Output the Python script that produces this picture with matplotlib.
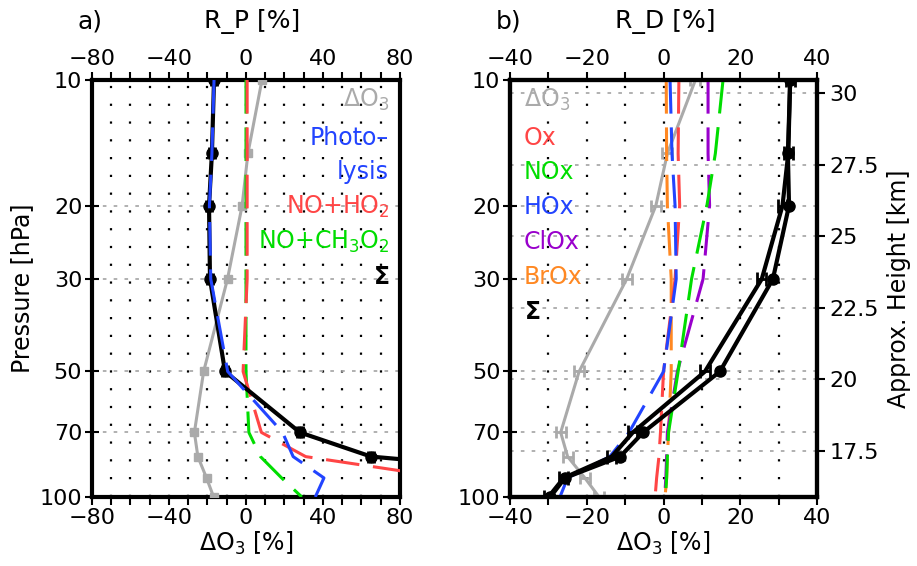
import numpy as np
import matplotlib
matplotlib.use("Agg")
import matplotlib.pyplot as plt

plt.rcParams['font.family'] = ['DejaVu Sans']
plt.rcParams['font.size'] = 16
plt.rcParams['mathtext.fontset'] = 'dejavusans'

# pressure levels [hPa]
pres = [10, 15, 20, 30, 50, 70, 80, 90, 100]

# ozone change, same in both panels
d_o3 = [8.3, 1.0, -2.0, -9.6, -22.0, -26.8, -25.0, -20.5, -16.8]

# panel a: production terms R_P [%]
sum_p = [-16.6, -17.7, -19.2, -18.7, -10.9, 28.0, 65.0, 190.0, 250.0]
photolysis = [-16.6, -17.7, -19.0, -18.3, -9.5, 19.0, 24.5, 40.5, 36.0]
no_ho2 = [0.6, 0.6, 0.6, 0.6, -1.5, 8.0, 31.0, 105.0, 130.0]
no_ch3o2 = [0.0, 0.0, 0.0, 0.0, 0.0, 1.5, 7.5, 18.5, 29.0]

# panel b: destruction terms R_D [%]
sum_d1 = [33.0, 32.4, 32.7, 28.5, 14.7, -5.3, -11.3, -25.7, -29.5]
sum_d2 = [33.0, 32.5, 31.0, 25.6, 10.8, -8.0, -13.5, -26.0, -30.0]
ox = [4.0, 3.8, 4.2, 3.0, 0.0, -0.8, -1.2, -1.8, -2.2]
nox = [15.5, 13.5, 11.3, 7.3, 3.8, 1.3, 1.0, 0.8, 0.5]
hox = [1.7, 2.2, 3.0, 3.3, 0.0, -9.0, -14.0, -25.0, -27.0]
clox = [11.6, 11.6, 12.0, 10.3, 3.6, 1.0, 0.8, 0.6, 0.3]
brox = [0.7, 0.8, 1.0, 2.0, 2.0, 1.3, 1.0, 0.8, 0.4]

p_ticks = [10, 20, 30, 50, 70, 100]
p_grid = [20, 30, 50, 70]
km_ticks = [17.5, 20, 22.5, 25, 27.5, 30]

# approximate height from pressure
H_SCALE = 6.33
P_REF = 1230.0

GRAY = '#aaaaaa'
RED = '#ff4545'
GREEN = '#00dd00'
BLUE = '#2244ff'
PURPLE = '#9900cc'
ORANGE = '#ff8822'
DASH = (0, (11, 4.5))
LEG_FS = 17


def minus(v):
    return str(v).replace('-', '\u2212')


def setup_axis(ax, xmax, step_lab):
    ax.set_yscale('log')
    ax.set_ylim(100, 10)
    ax.set_xlim(-xmax, xmax)
    ax.set_yticks(p_ticks)
    ax.set_yticklabels([str(p) for p in p_ticks])
    ax.minorticks_off()
    xt = list(range(-xmax, xmax + 1, 10))
    ax.set_xticks(xt)
    ax.set_xticklabels([minus(v) if v % step_lab == 0 else '' for v in xt])
    ax.tick_params(axis='x', which='both', direction='out', length=6, width=1.5,
                   top=True, labeltop=True, pad=2)
    ax.tick_params(axis='y', direction='inout', length=10, width=1.5, pad=2)
    for s in ax.spines.values():
        s.set_linewidth(3)
    # dotted verticals
    for v in xt[1:-1]:
        ax.axvline(v, color='k', lw=1.6, ls=(0, (1, 7)), zorder=1)
    for p in p_grid:
        ax.axhline(p, color=GRAY, lw=1.3, ls=(0, (2, 4)), zorder=1)
    ax.set_xlabel(r'$\Delta$O$_3$ [%]', labelpad=1, fontsize=17)


fig = plt.figure(figsize=(9.17, 5.66), dpi=100)
ax_a = fig.add_axes([0.1003, 0.1219, 0.3359, 0.7367])
ax_b = fig.add_axes([0.5562, 0.1219, 0.3348, 0.7367])

# ---- panel a ----
setup_axis(ax_a, 80, 40)
ax_a.set_ylabel('Pressure [hPa]', labelpad=4, fontsize=17)
ax_a.plot(d_o3, pres, color=GRAY, lw=2.2, marker='s', ms=6, zorder=3)
ax_a.plot(no_ch3o2, pres, color=GREEN, lw=2.2, ls=DASH, zorder=4)
ax_a.plot(no_ho2, pres, color=RED, lw=2.2, ls=DASH, zorder=4)
ax_a.plot(sum_p, pres, color='k', lw=3, marker='o', ms=8, zorder=5)
ax_a.errorbar(sum_p, pres, xerr=1.5, fmt='none', ecolor='k', elinewidth=2,
              capsize=4, capthick=2, zorder=5)
ax_a.plot(photolysis, pres, color=BLUE, lw=2.2, ls=DASH, zorder=6)

leg_a = [(r'$\Delta$O$_3$', GRAY, 0.952), ('Photo\u2013', BLUE, 0.861),
         ('lysis', BLUE, 0.779), ('NO+HO$_2$', RED, 0.695),
         ('NO+CH$_3$O$_2$', GREEN, 0.612), (r'$\mathbf{\Sigma}$', 'k', 0.528)]
for txt, c, y in leg_a:
    ax_a.text(0.965, y, txt, color=c, ha='right', va='center', fontsize=LEG_FS,
              transform=ax_a.transAxes, zorder=7)

# ---- panel b ----
setup_axis(ax_b, 40, 20)
ax_b.errorbar(d_o3, pres, xerr=1.3, color=GRAY, lw=2.2, elinewidth=2,
              capsize=4, capthick=2, zorder=3)
ax_b.plot(brox, pres, color=ORANGE, lw=2.2, ls=DASH, zorder=4)
ax_b.plot(clox, pres, color=PURPLE, lw=2.2, ls=DASH, zorder=4)
ax_b.plot(nox, pres, color=GREEN, lw=2.2, ls=DASH, zorder=4)
ax_b.plot(ox, pres, color=RED, lw=2.2, ls=DASH, zorder=4)
ax_b.plot(hox, pres, color=BLUE, lw=2.2, ls=DASH, zorder=4)
ax_b.errorbar(sum_d2, pres, xerr=1.2, color='k', lw=3, elinewidth=2,
              capsize=5, capthick=2, zorder=5)
ax_b.plot(sum_d1, pres, color='k', lw=3, marker='o', ms=8, zorder=5)

km_p = [P_REF * np.exp(-z / H_SCALE) for z in km_ticks]
for p in km_p:
    ax_b.axhline(p, color=GRAY, lw=1.3, ls=(0, (2, 4)), zorder=1)

leg_b = [(r'$\Delta$O$_3$', GRAY, 0.952), ('Ox', RED, 0.861),
         ('NOx', GREEN, 0.779), ('HOx', BLUE, 0.695),
         ('ClOx', PURPLE, 0.612), ('BrOx', ORANGE, 0.528),
         (r'$\mathbf{\Sigma}$', 'k', 0.444)]
for txt, c, y in leg_b:
    ax_b.text(0.045, y, txt, color=c, ha='left', va='center', fontsize=LEG_FS,
              transform=ax_b.transAxes, zorder=7)

# height axis on the right
ax_km = ax_b.twinx()
ax_km.set_ylim(H_SCALE * np.log(P_REF / 100), H_SCALE * np.log(P_REF / 10))
ax_km.set_yticks(km_ticks)
ax_km.set_yticklabels(['17.5', '20', '22.5', '25', '27.5', '30'])
ax_km.tick_params(axis='y', direction='out', length=6, width=1.5, pad=3)
ax_km.set_ylabel('Approx. Height [km]', labelpad=6, fontsize=17)
for s in ax_km.spines.values():
    s.set_linewidth(3)

fig.text(0.085, 0.962, 'a)', ha='left', va='center', fontsize=18)
fig.text(0.275, 0.962, 'R_P [%]', ha='center', va='center', fontsize=18)
fig.text(0.541, 0.962, 'b)', ha='left', va='center', fontsize=18)
fig.text(0.725, 0.962, 'R_D [%]', ha='center', va='center', fontsize=18)

fig.savefig('out.png', dpi=100)
